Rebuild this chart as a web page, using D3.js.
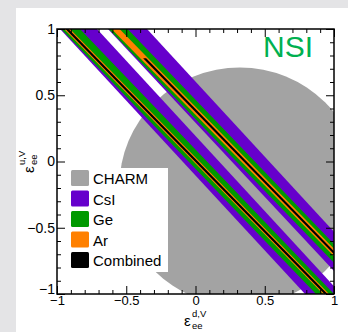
<!DOCTYPE html>
<html>
<head>
<meta charset="utf-8">
<script src="https://cdn.jsdelivr.net/npm/d3@7"></script>
<style>
  body { margin: 0; background: #e4e4e6; }
  svg { display: block; font-family: "Liberation Sans", Arial, Helvetica, sans-serif; }
</style>
</head>
<body>
<div id="chart"></div>
<script>
// tick values
const majorTicks = [-1, -0.5, 0, 0.5, 1];
const minorTicks = [-0.9, -0.8, -0.7, -0.6, -0.4, -0.3, -0.2, -0.1, 0.1, 0.2, 0.3, 0.4, 0.6, 0.7, 0.8, 0.9];

// legend
const legendNames = ["CHARM", "CsI", "Ge", "Ar", "Combined"];
const legendColors = ["#a3a3a3", "#6600cc", "#009900", "#ff8000", "#000000"];

// CHARM region: ellipse centre and semi axes in (eps_d, eps_u)
const charmCentre = [0.32, -0.19];
const charmRadii = [0.87, 0.9];

// allowed bands, one row per band:
// eps_d of [left, right] edge at eps_u = +1, then [left, right] at eps_u = -1
const csiBands = [[-0.978, -0.711, 0.791, 1.051], [-0.632, -0.350, 1.155, 1.414]];
const geBands = [[-0.971, -0.834, 0.870, 1.000], [-0.627, -0.490, 1.217, 1.347]];
const arBands = [[-0.949, -0.906, 0.921, 0.964], [-0.606, -0.548, 1.267, 1.318]];
const combinedBands = [[-0.939, -0.917, 0.931, 0.953], [-0.583, -0.561, 1.279, 1.300]];
// eps_u where each combined band begins
const combinedTop = [1, 0.78];

const W = 348, H = 332;
const margin = {top: 29, right: 14, bottom: 38, left: 57};
const width = W - margin.left - margin.right;
const height = H - margin.top - margin.bottom;

const svg = d3.select("#chart").append("svg")
    .attr("width", W)
    .attr("height", H);

svg.append("rect").attr("width", W).attr("height", H).attr("fill", "#e4e4e6");
svg.append("rect").attr("x", 16).attr("y", 8).attr("width", W - 16).attr("height", H - 8).attr("fill", "#ffffff");

const g = svg.append("g")
    .attr("transform", "translate(" + margin.left + "," + margin.top + ")");

const x = d3.scaleLinear().domain([-1, 1]).range([0, width]);
const y = d3.scaleLinear().domain([-1, 1]).range([height, 0]);

g.append("clipPath").attr("id", "plotclip")
  .append("rect").attr("width", width).attr("height", height);

const plot = g.append("g").attr("clip-path", "url(#plotclip)");

// CHARM
plot.append("ellipse")
    .attr("cx", x(charmCentre[0]))
    .attr("cy", y(charmCentre[1]))
    .attr("rx", x(charmCentre[0] + charmRadii[0]) - x(charmCentre[0]))
    .attr("ry", y(charmCentre[1]) - y(charmCentre[1] + charmRadii[1]))
    .attr("fill", legendColors[0]);

function bandPoints(b, uTop) {
  const at = (xt, xb, u) => xt + (xb - xt) * (1 - u) / 2;
  return [[at(b[0], b[2], uTop), uTop], [at(b[1], b[3], uTop), uTop], [b[3], -1], [b[2], -1]];
}

const line = d3.line().x(d => x(d[0])).y(d => y(d[1])).curve(d3.curveLinearClosed);

const layers = [
  {bands: csiBands, color: legendColors[1], tops: [1, 1]},
  {bands: geBands, color: legendColors[2], tops: [1, 1]},
  {bands: arBands, color: legendColors[3], tops: [1, 1]},
  {bands: combinedBands, color: legendColors[4], tops: combinedTop}
];

layers.forEach(l => {
  plot.selectAll(null).data(l.bands).enter().append("path")
      .attr("d", (d, i) => line(bandPoints(d, l.tops[i])))
      .attr("fill", l.color);
});

// NSI label
g.append("text")
    .attr("x", width - 71)
    .attr("y", 28)
    .attr("fill", "#00b050")
    .style("font-size", "30px")
    .text("NSI");

// legend
const leg = g.append("g");
leg.append("rect")
    .attr("x", 1).attr("y", 139)
    .attr("width", 110).attr("height", 104)
    .attr("fill", "#ffffff");

const item = leg.selectAll(".item").data(legendNames).enter().append("g")
    .attr("transform", (d, i) => "translate(14," + (141 + i * 20.5) + ")");
item.append("rect")
    .attr("width", 18).attr("height", 16).attr("rx", 1.5)
    .attr("fill", (d, i) => legendColors[i]);
item.append("text")
    .attr("x", 22).attr("y", 14)
    .style("font-size", "15px")
    .text(d => d);

// axes, ROOT style ticks pointing inwards on all four sides
const fmt = d => d === 0 ? "0" : d3.format("")(d);

function styleAxis(sel) {
  sel.select(".domain").remove();
  sel.selectAll(".tick line").attr("stroke", "#000").attr("stroke-width", 1);
  sel.selectAll(".tick text").style("font-size", "14px").attr("fill", "#000");
}

const xAxisBottom = g.append("g").attr("transform", "translate(0," + height + ")")
    .call(d3.axisBottom(x).tickValues(majorTicks).tickSize(-8).tickPadding(2).tickFormat(fmt))
    .call(styleAxis);
xAxisBottom.selectAll(".tick text").style("font-size", "13px");

g.append("g").attr("transform", "translate(0," + height + ")")
    .call(d3.axisBottom(x).tickValues(minorTicks).tickSize(-4).tickFormat(""))
    .call(styleAxis);
g.append("g")
    .call(d3.axisTop(x).tickValues(majorTicks).tickSize(-8).tickFormat(""))
    .call(styleAxis);
g.append("g")
    .call(d3.axisTop(x).tickValues(minorTicks).tickSize(-4).tickFormat(""))
    .call(styleAxis);

const yAxisLeft = g.append("g")
    .call(d3.axisLeft(y).tickValues(majorTicks).tickSize(-8).tickPadding(2).tickFormat(fmt))
    .call(styleAxis);
// ROOT lifts the lowest label a little off the corner
yAxisLeft.selectAll(".tick text").filter(d => d === -1).attr("y", -5);

g.append("g")
    .call(d3.axisLeft(y).tickValues(minorTicks).tickSize(-4).tickFormat(""))
    .call(styleAxis);
g.append("g").attr("transform", "translate(" + width + ",0)")
    .call(d3.axisRight(y).tickValues(majorTicks).tickSize(-8).tickFormat(""))
    .call(styleAxis);
g.append("g").attr("transform", "translate(" + width + ",0)")
    .call(d3.axisRight(y).tickValues(minorTicks).tickSize(-4).tickFormat(""))
    .call(styleAxis);

// frame
g.append("rect")
    .attr("width", width).attr("height", height)
    .attr("fill", "none").attr("stroke", "#000").attr("stroke-width", 1.5);

// axis titles: epsilon with stacked super / subscript
function epsTitle(parent, sup) {
  parent.append("text").attr("x", 0).attr("y", 0).style("font-size", "15px").text("\u03b5");
  parent.append("text").attr("x", 8).attr("y", -9).style("font-size", "9.5px").text(sup);
  parent.append("text").attr("x", 8).attr("y", 3).style("font-size", "9.5px").text("ee");
}

epsTitle(svg.append("g").attr("transform", "translate(184,326)"), "d,V");
epsTitle(svg.append("g").attr("transform", "translate(34,173) rotate(-90)"), "u,V");
</script>
</body>
</html>
